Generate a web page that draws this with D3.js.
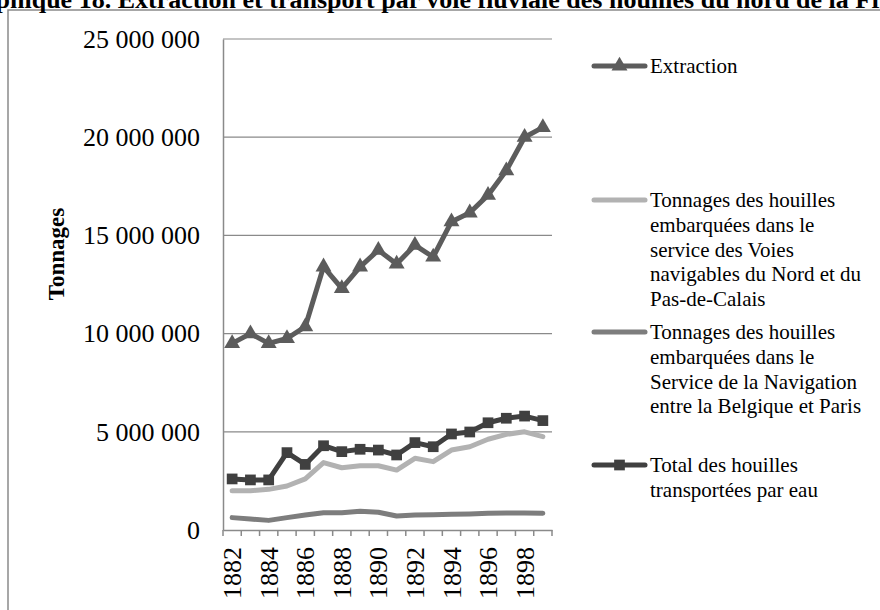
<!DOCTYPE html>
<html>
<head>
<meta charset="utf-8">
<script src="https://cdn.jsdelivr.net/npm/d3@7/dist/d3.min.js"></script>
<style>
  body { margin: 0; background: #fff; }
  svg { font-family: "Liberation Serif", "Times New Roman", serif; }
</style>
</head>
<body>
<svg id="chart" width="880" height="610"></svg>
<script>
// data (tonnes)
const years = [1882, 1883, 1884, 1885, 1886, 1887, 1888, 1889, 1890,
               1891, 1892, 1893, 1894, 1895, 1896, 1897, 1898, 1899];
const extraction = [9.5e6, 10.0e6, 9.5e6, 9.75e6, 10.35e6, 13.4e6, 12.3e6, 13.4e6, 14.25e6,
                    13.55e6, 14.5e6, 13.9e6, 15.7e6, 16.15e6, 17.05e6, 18.3e6, 20.0e6, 20.5e6];
const voiesNord = [2.0e6, 2.0e6, 2.07e6, 2.24e6, 2.6e6, 3.43e6, 3.17e6, 3.27e6, 3.27e6,
                   3.05e6, 3.65e6, 3.48e6, 4.07e6, 4.24e6, 4.62e6, 4.87e6, 5.0e6, 4.75e6];
const belgiqueParis = [0.63e6, 0.56e6, 0.49e6, 0.63e6, 0.76e6, 0.88e6, 0.88e6, 0.95e6, 0.9e6,
                       0.71e6, 0.76e6, 0.78e6, 0.8e6, 0.82e6, 0.85e6, 0.86e6, 0.86e6, 0.85e6];
const totalEau = [2.6e6, 2.55e6, 2.55e6, 3.94e6, 3.34e6, 4.29e6, 3.99e6, 4.11e6, 4.07e6,
                  3.82e6, 4.45e6, 4.24e6, 4.89e6, 4.99e6, 5.46e6, 5.69e6, 5.8e6, 5.57e6];
const yTicks = [0, 5e6, 10e6, 15e6, 20e6, 25e6];
const yearLabels = [1882, 1884, 1886, 1888, 1890, 1892, 1894, 1896, 1898];

const titleText = "Graphique 18. Extraction et transport par voie fluviale des houilles du nord de la France";
const yTitle = "Tonnages";
const legendExtraction = ["Extraction"];
const legendNord = ["Tonnages des houilles", "embarquées dans le", "service des Voies",
                    "navigables du Nord et du", "Pas-de-Calais"];
const legendBelgique = ["Tonnages des houilles", "embarquées dans le",
                        "Service de la Navigation", "entre la Belgique et Paris"];
const legendTotal = ["Total des houilles", "transportées par eau"];

const series = [
  { values: extraction, label: legendExtraction, color: "#5c5c5c", marker: "triangle", ly: 66 },
  { values: voiesNord, label: legendNord, color: "#b2b2b2", marker: null, ly: 200 },
  { values: belgiqueParis, label: legendBelgique, color: "#7d7d7d", marker: null, ly: 332 },
  { values: totalEau, label: legendTotal, color: "#404040", marker: "square", ly: 465 }
];

const plot = { left: 223, right: 552, top: 39, bottom: 530 };

const svg = d3.select("#chart");

// outer frame (runs off the right and bottom edges)
svg.append("rect")
  .attr("x", 8).attr("y", 10)
  .attr("width", 900).attr("height", 640)
  .attr("fill", "none")
  .attr("stroke", "#8a8a8a")
  .attr("stroke-width", 1.5);

// title (clipped by the top edge, as in the reference)
svg.append("text")
  .attr("x", 442).attr("y", 8)
  .attr("text-anchor", "middle")
  .style("font-weight", "bold")
  .style("font-size", "26px")
  .text(titleText);

const x = d3.scaleBand().domain(years).range([plot.left, plot.right]).padding(0);
const y = d3.scaleLinear().domain([0, 25e6]).range([plot.bottom, plot.top]);

const fr = d3.formatLocale({ decimal: ",", thousands: " ", grouping: [3], currency: ["", " €"] });
const fmt = fr.format(",d");

// gridlines
svg.append("g")
  .selectAll("line")
  .data(yTicks.filter(d => d > 0))
  .enter().append("line")
  .attr("x1", plot.left).attr("x2", plot.right)
  .attr("y1", d => y(d)).attr("y2", d => y(d))
  .attr("stroke", "#8a8a8a")
  .attr("stroke-width", 1.2);

// y axis
const yAxis = svg.append("g")
  .attr("transform", `translate(${plot.left},0)`)
  .call(d3.axisLeft(y).tickValues(yTicks).tickSize(0).tickPadding(23).tickFormat(fmt));
yAxis.select(".domain").attr("stroke", "#8a8a8a").attr("stroke-width", 1.5);
yAxis.selectAll("text")
  .style("font-family", "Liberation Serif, serif")
  .style("font-size", "26px")
  .attr("fill", "#000");

// x axis: labels every second year, tick marks at category boundaries
const xAxis = svg.append("g")
  .attr("transform", `translate(0,${plot.bottom})`)
  .call(d3.axisBottom(x).tickValues(yearLabels).tickSize(0).tickPadding(0));
xAxis.select(".domain").attr("stroke", "#8a8a8a").attr("stroke-width", 1.5);
xAxis.selectAll("text")
  .style("font-family", "Liberation Serif, serif")
  .style("font-size", "26px")
  .attr("fill", "#000")
  .attr("text-anchor", "end")
  .attr("transform", "rotate(-90)")
  .attr("x", -17)
  .attr("y", 0)
  .attr("dy", "0.35em");

const bounds = years.map(d => x(d)).concat([plot.right]);
svg.append("g")
  .selectAll("line")
  .data(bounds)
  .enter().append("line")
  .attr("x1", d => d).attr("x2", d => d)
  .attr("y1", plot.bottom).attr("y2", plot.bottom + 6)
  .attr("stroke", "#8a8a8a")
  .attr("stroke-width", 1.5);

// y title
svg.append("text")
  .attr("transform", "translate(64,254) rotate(-90)")
  .attr("text-anchor", "middle")
  .style("font-weight", "bold")
  .style("font-size", "23px")
  .text(yTitle);

// markers
const tri = d3.symbol().type(d3.symbolTriangle).size(110);
const sq = d3.symbol().type(d3.symbolSquare).size(115);
function drawMarker(g, type, cx, cy, color) {
  if (!type) return;
  g.append("path")
    .attr("d", type === "triangle" ? tri() : sq())
    .attr("transform", `translate(${cx},${cy})`)
    .attr("fill", color);
}

const line = d3.line()
  .x((d, i) => x(years[i]) + x.bandwidth() / 2)
  .y(d => y(d));

// lines, back to front
series.forEach(s => {
  const g = svg.append("g");
  g.append("path")
    .attr("d", line(s.values))
    .attr("fill", "none")
    .attr("stroke", s.color)
    .attr("stroke-width", 5)
    .attr("stroke-linejoin", "round")
    .attr("stroke-linecap", "round");
  s.values.forEach((v, i) => drawMarker(g, s.marker, x(years[i]) + x.bandwidth() / 2, y(v), s.color));
});

// legend
const legend = svg.append("g");
series.forEach(s => {
  const g = legend.append("g");
  g.append("line")
    .attr("x1", 594).attr("x2", 645)
    .attr("y1", s.ly).attr("y2", s.ly)
    .attr("stroke", s.color)
    .attr("stroke-width", 5)
    .attr("stroke-linecap", "round");
  drawMarker(g, s.marker, 619.5, s.ly, s.color);
  const t = g.append("text")
    .attr("x", 650).attr("y", s.ly)
    .style("font-size", "21px");
  s.label.forEach((l, i) => {
    t.append("tspan")
      .attr("x", 650)
      .attr("dy", i === 0 ? "0.35em" : "24.7px")
      .text(l);
  });
});
</script>
</body>
</html>
